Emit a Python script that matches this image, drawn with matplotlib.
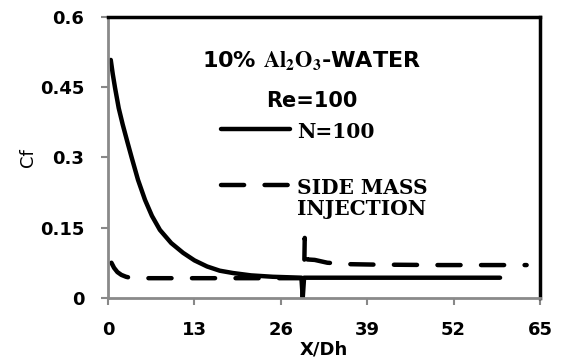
import matplotlib
matplotlib.use("Agg")
import matplotlib.pyplot as plt
import numpy as np

plt.rcParams.update({
    "font.family": "DejaVu Sans",
    "mathtext.fontset": "stix",
})

# N=100 (solid)
x_n100 = [0.4, 0.7, 1.05, 1.6, 2.2, 2.9, 3.56, 4.5, 5.56, 6.6, 7.8, 9.5, 11.3,
          13.0, 14.9, 16.8, 18.8, 21.5, 24.8, 27.0, 29.1, 29.3, 29.5, 40.0, 59.0]
cf_n100 = [0.508, 0.478, 0.448, 0.405, 0.370, 0.333, 0.299, 0.252, 0.209, 0.175,
           0.145, 0.117, 0.096, 0.080, 0.067, 0.058, 0.053, 0.048, 0.045, 0.044,
           0.043, 0.0, 0.043, 0.043, 0.043]

# side mass injection (dashed)
x_smi = [0.5, 0.9, 1.4, 2.0, 2.7, 3.3, 6.0, 10.0, 15.0, 20.0, 25.0, 29.5, 29.6,
         29.7, 30.0, 31.1, 33.0, 36.0, 40.0, 50.0, 63.0]
cf_smi = [0.075, 0.064, 0.055, 0.049, 0.045, 0.043, 0.042, 0.042, 0.042, 0.042,
          0.042, 0.042, 0.128, 0.090, 0.082, 0.081, 0.075, 0.072, 0.071, 0.070, 0.070]

xticks = [0, 13, 26, 39, 52, 65]
yticks = [0, 0.15, 0.3, 0.45, 0.6]
ytick_labels = ["0", "0.15", "0.3", "0.45", "0.6"]

fig = plt.figure(figsize=(5.63, 3.58), dpi=100)
ax = fig.add_axes([0.192, 0.168, 0.767, 0.785])

ax.plot(x_n100, cf_n100, color="black", lw=3.2, solid_capstyle="round",
        solid_joinstyle="round", label="N=100")
ax.plot(x_smi, cf_smi, color="black", lw=3.2, dashes=(5.2, 4.6),
        dash_capstyle="round", dash_joinstyle="round", label="SIDE MASS\nINJECTION")

ax.set_xlim(0, 65)
ax.set_ylim(0, 0.6)
ax.set_xticks(xticks)
ax.set_yticks(yticks)
ax.set_yticklabels(ytick_labels)
for lab in ax.get_xticklabels() + ax.get_yticklabels():
    lab.set_fontweight("bold")
    lab.set_fontsize(13)
ax.tick_params(axis="both", direction="out", length=5, width=1.5,
               color="#888888", pad=12)

for s in ("left", "bottom"):
    ax.spines[s].set_color("#8a8a8a")
    ax.spines[s].set_linewidth(2)
for s in ("top", "right"):
    ax.spines[s].set_color("black")
    ax.spines[s].set_linewidth(2.5)

ax.set_xlabel("X/Dh", fontsize=13, fontweight="bold", labelpad=1)
ax.set_ylabel("Cf", fontsize=13, labelpad=2)

ax.text(0.472, 0.84, r"10% $\mathbf{Al_2O_3}$-WATER", transform=ax.transAxes,
        ha="center", va="center", fontsize=16, fontweight="bold")
ax.text(0.472, 0.70, "Re=100", transform=ax.transAxes,
        ha="center", va="center", fontsize=15, fontweight="bold")

leg = ax.legend(loc="upper left", bbox_to_anchor=(0.22, 0.69), frameon=False,
                prop={"family": "DejaVu Serif", "weight": "bold", "size": 14.5},
                handlelength=3.4, handletextpad=0.35, labelspacing=1.8)
for t in leg.get_texts():
    t.set_linespacing(1.02)
# put the dashed handle level with the first line of its label
for col in leg._legend_handle_box.get_children():
    for row in col.get_children():
        row.align = "top"

fig.savefig("out.png", dpi=100)
